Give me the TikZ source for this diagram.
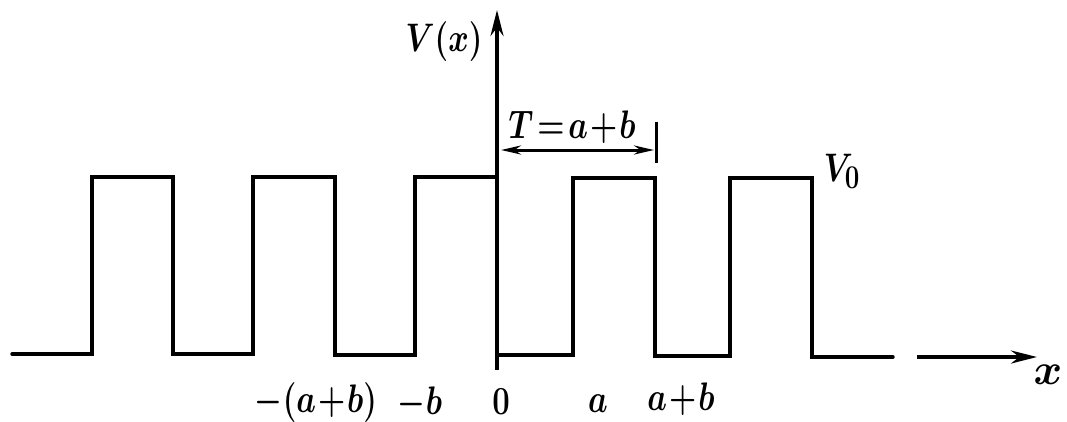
\documentclass[tikz,border=0pt]{standalone}
\usetikzlibrary{arrows.meta}
\begin{document}
\begin{tikzpicture}[x=1pt,y=-1pt,
  wave/.style={line width=3.4pt,line join=miter,line cap=round},
  axisline/.style={line width=3.6pt,-{Stealth[length=26pt,width=13pt]}},
  dim/.style={line width=3pt,{Stealth[length=20pt,width=9pt]}-{Stealth[length=20pt,width=9pt]}},
  lbl/.style={inner sep=0pt,xscale=1.25,yscale=1.6,font=\Huge\boldmath}]
\useasboundingbox (0,0) rectangle (1067,421);
% baseline and pulses
\draw[wave] (12,354) -- (92,354) -- (92,177) -- (173,177) -- (173,354)
  -- (253,354) -- (253,177) -- (335,177) -- (335,355)
  -- (415,355) -- (415,177) -- (497,177) -- (497,355)
  -- (573,355) -- (573,178) -- (655,178) -- (655,356)
  -- (730,356) -- (730,178) -- (812,178) -- (812,357) -- (893,357);
% axes
\coordinate (xs) at (917,357);
\coordinate (xe) at (1037,357);
\coordinate (ys) at (497,370);
\coordinate (ye) at (497,10);
\draw[axisline] (xs) -- (xe);
\draw[axisline] (ys) -- (ye);
% period marker
\coordinate (p0) at (501,150);
\coordinate (p1) at (654,150);
\coordinate (t0) at (656,122);
\coordinate (t1) at (656,163);
\draw[dim] (p0) -- (p1);
\draw[line width=3pt] (t0) -- (t1);
% labels
\node[lbl] (vx) at (444,42) {$V(x)$};
\node[lbl] (T) at (572,127) {$T\!=\!a\!+\!b$};
\node[lbl] (v0) at (842,171) {$V_0$};
\node[lbl,xscale=1.4,yscale=1.1] (xl) at (1048,375) {$x$};
\node[lbl,anchor=base] (l1) at (316,412) {$-(a\!+\!b)$};
\node[lbl,anchor=base] (l2) at (420,414) {$-b$};
\node[lbl,anchor=base] (l3) at (501,414) {$0$};
\node[lbl,anchor=base] (l4) at (598,412) {$a$};
\node[lbl,anchor=base] (l5) at (681,410) {$a\!+\!b$};
\end{tikzpicture}
\end{document}
